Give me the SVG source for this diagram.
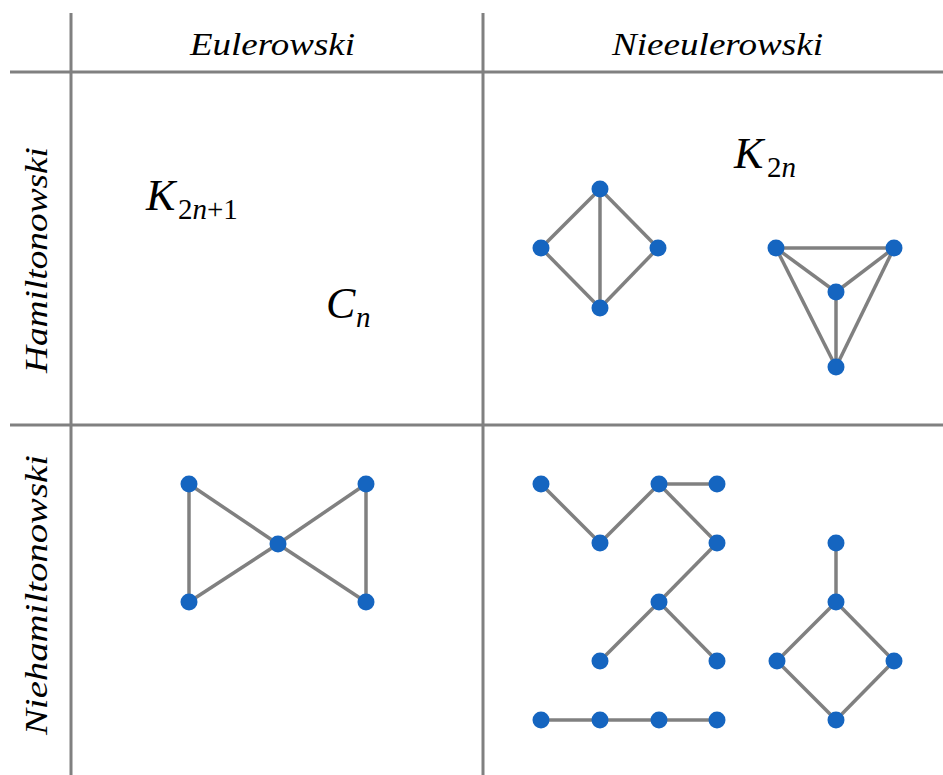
<svg xmlns="http://www.w3.org/2000/svg" width="943" height="775" viewBox="0 0 943 775">
<style>
.grid{stroke:#808080;stroke-width:3;fill:none}
.e{stroke:#808080;stroke-width:3.5;fill:none}
.n{fill:#1565c0}
</style>
<rect width="943" height="775" fill="#fff"/>
<g id="grid">
<line class="grid" x1="71" y1="13" x2="71" y2="775"/>
<line class="grid" x1="483" y1="13" x2="483" y2="775"/>
<line class="grid" x1="10" y1="72" x2="943" y2="72"/>
<line class="grid" x1="10" y1="425" x2="943" y2="425"/>
</g>
<g id="labels" font-family="Liberation Serif, serif" fill="#000">
<text font-style="italic" font-size="31" x="190" y="55" textLength="165" lengthAdjust="spacingAndGlyphs">Eulerowski</text>
<text font-style="italic" font-size="31" x="612" y="55" textLength="211" lengthAdjust="spacingAndGlyphs">Nieeulerowski</text>
<text font-style="italic" font-size="31" transform="translate(47,373) rotate(-90)" textLength="226" lengthAdjust="spacingAndGlyphs">Hamiltonowski</text>
<text font-style="italic" font-size="31" transform="translate(47,735) rotate(-90)" textLength="280" lengthAdjust="spacingAndGlyphs">Niehamiltonowski</text>
<text x="146" y="210"><tspan font-style="italic" font-size="44">K</tspan><tspan font-size="29" x="178" y="219">2</tspan><tspan font-style="italic" font-size="29">n</tspan><tspan font-size="29">+1</tspan></text>
<text x="326" y="318"><tspan font-style="italic" font-size="44">C</tspan><tspan font-style="italic" font-size="29" x="356" y="327">n</tspan></text>
<text x="734" y="168"><tspan font-style="italic" font-size="44">K</tspan><tspan font-size="29" x="767" y="177">2</tspan><tspan font-style="italic" font-size="29">n</tspan></text>
</g>
<g id="connectors">
<line class="e" x1="600" y1="189" x2="541" y2="248"/>
<line class="e" x1="600" y1="189" x2="658" y2="248"/>
<line class="e" x1="600" y1="189" x2="600" y2="308"/>
<line class="e" x1="541" y1="248" x2="600" y2="308"/>
<line class="e" x1="658" y1="248" x2="600" y2="308"/>
<line class="e" x1="776" y1="248" x2="894" y2="248"/>
<line class="e" x1="776" y1="248" x2="836" y2="292"/>
<line class="e" x1="894" y1="248" x2="836" y2="292"/>
<line class="e" x1="836" y1="292" x2="836" y2="367"/>
<line class="e" x1="776" y1="248" x2="836" y2="367"/>
<line class="e" x1="894" y1="248" x2="836" y2="367"/>
<line class="e" x1="189" y1="484" x2="189" y2="602"/>
<line class="e" x1="189" y1="484" x2="278" y2="544"/>
<line class="e" x1="189" y1="602" x2="278" y2="544"/>
<line class="e" x1="366" y1="484" x2="278" y2="544"/>
<line class="e" x1="366" y1="602" x2="278" y2="544"/>
<line class="e" x1="366" y1="484" x2="366" y2="602"/>
<line class="e" x1="541" y1="484" x2="600" y2="543"/>
<line class="e" x1="600" y1="543" x2="659" y2="484"/>
<line class="e" x1="659" y1="484" x2="717" y2="484"/>
<line class="e" x1="659" y1="484" x2="717" y2="543"/>
<line class="e" x1="717" y1="543" x2="659" y2="602"/>
<line class="e" x1="659" y1="602" x2="600" y2="661"/>
<line class="e" x1="659" y1="602" x2="717" y2="661"/>
<line class="e" x1="541" y1="720" x2="717" y2="720"/>
<line class="e" x1="836" y1="543" x2="836" y2="602"/>
<line class="e" x1="836" y1="602" x2="777" y2="661"/>
<line class="e" x1="836" y1="602" x2="894" y2="661"/>
<line class="e" x1="777" y1="661" x2="836" y2="720"/>
<line class="e" x1="894" y1="661" x2="836" y2="720"/>
</g>
<g id="k4a">
<circle class="n" cx="600" cy="189" r="8.5"/><circle class="n" cx="541" cy="248" r="8.5"/><circle class="n" cx="658" cy="248" r="8.5"/><circle class="n" cx="600" cy="308" r="8.5"/>
</g>
<g id="k4b">
<circle class="n" cx="776" cy="248" r="8.5"/><circle class="n" cx="894" cy="248" r="8.5"/><circle class="n" cx="836" cy="292" r="8.5"/><circle class="n" cx="836" cy="367" r="8.5"/>
</g>
<g id="bowtie">
<circle class="n" cx="189" cy="484" r="8.5"/><circle class="n" cx="189" cy="602" r="8.5"/><circle class="n" cx="278" cy="544" r="8.5"/><circle class="n" cx="366" cy="484" r="8.5"/><circle class="n" cx="366" cy="602" r="8.5"/>
</g>
<g id="tree">
<circle class="n" cx="541" cy="484" r="8.5"/><circle class="n" cx="600" cy="543" r="8.5"/><circle class="n" cx="659" cy="484" r="8.5"/><circle class="n" cx="717" cy="484" r="8.5"/><circle class="n" cx="717" cy="543" r="8.5"/><circle class="n" cx="659" cy="602" r="8.5"/><circle class="n" cx="600" cy="661" r="8.5"/><circle class="n" cx="717" cy="661" r="8.5"/>
</g>
<g id="path4">
<circle class="n" cx="541" cy="720" r="8.5"/><circle class="n" cx="600" cy="720" r="8.5"/><circle class="n" cx="659" cy="720" r="8.5"/><circle class="n" cx="717" cy="720" r="8.5"/>
</g>
<g id="kite">
<circle class="n" cx="836" cy="543" r="8.5"/><circle class="n" cx="836" cy="602" r="8.5"/><circle class="n" cx="777" cy="661" r="8.5"/><circle class="n" cx="894" cy="661" r="8.5"/><circle class="n" cx="836" cy="720" r="8.5"/>
</g>
</svg>
